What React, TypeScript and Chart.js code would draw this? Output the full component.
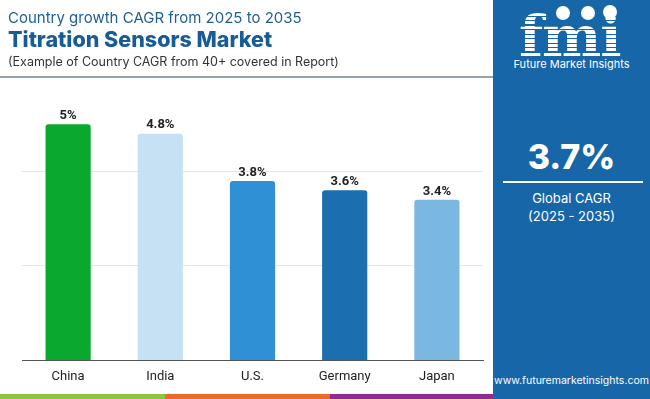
import React, { useEffect, useRef } from "react";
import { Chart, registerables } from "chart.js";

Chart.register(...registerables);

const categories = ["China", "India", "U.S.", "Germany", "Japan"];
const cagrValues = [5, 4.8, 3.8, 3.6, 3.4];
const valueLabels = ["5%", "4.8%", "3.8%", "3.6%", "3.4%"];
const barColors = ["#0aa82e", "#c6e1f3", "#2f90d6", "#1b6fae", "#7ab8e1"];
const yTicks = [0, 2, 4, 6];

const PANEL_BLUE = "#1766a8";

const labelPlugin = {
  id: "valueLabels",
  afterDatasetsDraw(chart: any) {
    const ctx = chart.ctx;
    const meta = chart.getDatasetMeta(0);
    ctx.save();
    ctx.font = "bold 13px Roboto, Arial, sans-serif";
    ctx.fillStyle = "#222";
    ctx.textAlign = "center";
    ctx.textBaseline = "bottom";
    meta.data.forEach((el: any, i: number) => {
      ctx.fillText(valueLabels[i], el.x, el.y - 2);
    });
    ctx.restore();
  },
};

export default function App() {
  const ref = useRef<HTMLCanvasElement>(null);
  useEffect(() => {
    document.body.style.margin = "0";
    const chart = new Chart(ref.current!, {
      type: "bar",
      data: {
        labels: categories,
        datasets: [
          {
            data: cagrValues,
            backgroundColor: barColors,
            borderRadius: 3,
            barPercentage: 0.49,
            categoryPercentage: 1,
          },
        ],
      },
      options: {
        animation: false,
        responsive: false,
        maintainAspectRatio: false,
        layout: { padding: { left: 22, right: 167, top: 77, bottom: 5 } },
        plugins: { legend: { display: false }, tooltip: { enabled: false } },
        scales: {
          x: {
            grid: { display: false, drawTicks: false },
            border: { display: true, color: "#555", width: 1 },
            ticks: {
              color: "#222",
              padding: 9,
              font: { family: "Roboto, Arial, sans-serif", size: 13 },
            },
          },
          y: {
            min: yTicks[0],
            max: yTicks[yTicks.length - 1],
            afterBuildTicks: (axis: any) => {
              axis.ticks = yTicks.map((v) => ({ value: v }));
            },
            grid: { color: "#e6e6e6", drawTicks: false },
            border: { display: false },
            ticks: { display: false },
          },
        },
      },
      plugins: [labelPlugin],
    });
    return () => chart.destroy();
  }, []);

  return (
    <div
      style={{
        position: "absolute",
        left: 0,
        top: 0,
        width: 650,
        height: 399,
        overflow: "hidden",
        background: "#fff",
        fontFamily: "Inter, 'Open Sans', sans-serif",
      }}
    >
      <canvas
        ref={ref}
        width={650}
        height={399}
        style={{ position: "absolute", left: 0, top: 0, width: 650, height: 399 }}
      />
      {/* Title block */}
      <div style={{ position: "absolute", left: 8, top: 8, fontSize: 15, color: "#1f5f93", whiteSpace: "nowrap" }}>
        Country growth CAGR from 2025 to 2035
      </div>
      <div style={{ position: "absolute", left: 8, top: 26, fontSize: 21.5, fontWeight: 800, color: "#185c97", whiteSpace: "nowrap" }}>
        Titration Sensors Market
      </div>
      <div style={{ position: "absolute", left: 8, top: 54, fontSize: 12.5, color: "#333", whiteSpace: "nowrap" }}>
        (Example of Country CAGR from 40+ covered in Report)
      </div>
      <div style={{ position: "absolute", left: 0, top: 76, width: 493, height: 2, background: "#8fa3b3" }} />
      {/* Bottom strip */}
      <div style={{ position: "absolute", left: 0, top: 394, width: 165, height: 5, background: "#8cc63f" }} />
      <div style={{ position: "absolute", left: 165, top: 394, width: 165, height: 5, background: "#ec6a2c" }} />
      <div style={{ position: "absolute", left: 330, top: 394, width: 163, height: 5, background: "#8e2d8e" }} />
      {/* Right panel */}
      <div style={{ position: "absolute", left: 493, top: 0, width: 157, height: 399, background: PANEL_BLUE, color: "#fff" }}>
        <div
          style={{
            position: "absolute",
            left: 26,
            top: 8,
            fontSize: 56,
            fontWeight: 700,
            fontFamily: "'DejaVu Serif', serif",
            letterSpacing: -1,
            lineHeight: "56px",
            backgroundImage: "repeating-linear-gradient(to bottom, #fff 0px, #fff 3px, rgba(255,255,255,0) 3px, rgba(255,255,255,0) 4.5px)",
            WebkitBackgroundClip: "text",
            backgroundClip: "text",
            color: "transparent",
          }}
        >
          fmi
        </div>
        <div style={{ position: "absolute", left: 63, top: 6, width: 14, height: 14, borderRadius: 7, background: "#fff" }} />
        <div style={{ position: "absolute", left: 88, top: 6, width: 14, height: 14, borderRadius: 7, background: "#fff" }} />
        <div style={{ position: "absolute", left: 110, top: 5, width: 14, height: 14, borderRadius: 7, background: "#fff" }} />
        <div style={{ position: "absolute", left: 0, top: 57, width: 157, textAlign: "center", fontSize: 11, whiteSpace: "nowrap" }}>
          Future Market Insights
        </div>
        <div style={{ position: "absolute", left: 0, top: 136, width: 157, textAlign: "center", fontSize: 34, fontWeight: 800 }}>
          3.7%
        </div>
        <div style={{ position: "absolute", left: 10, top: 181, width: 140, height: 1.5, background: "#fff" }} />
        <div style={{ position: "absolute", left: 0, top: 189, width: 157, textAlign: "center", fontSize: 13, lineHeight: "18px" }}>
          Global CAGR
          <br />
          (2025 - 2035)
        </div>
        <div style={{ position: "absolute", left: 0, top: 374, width: 157, textAlign: "center", fontSize: 10.5, whiteSpace: "nowrap" }}>
          www.futuremarketinsights.com
        </div>
      </div>
    </div>
  );
}
